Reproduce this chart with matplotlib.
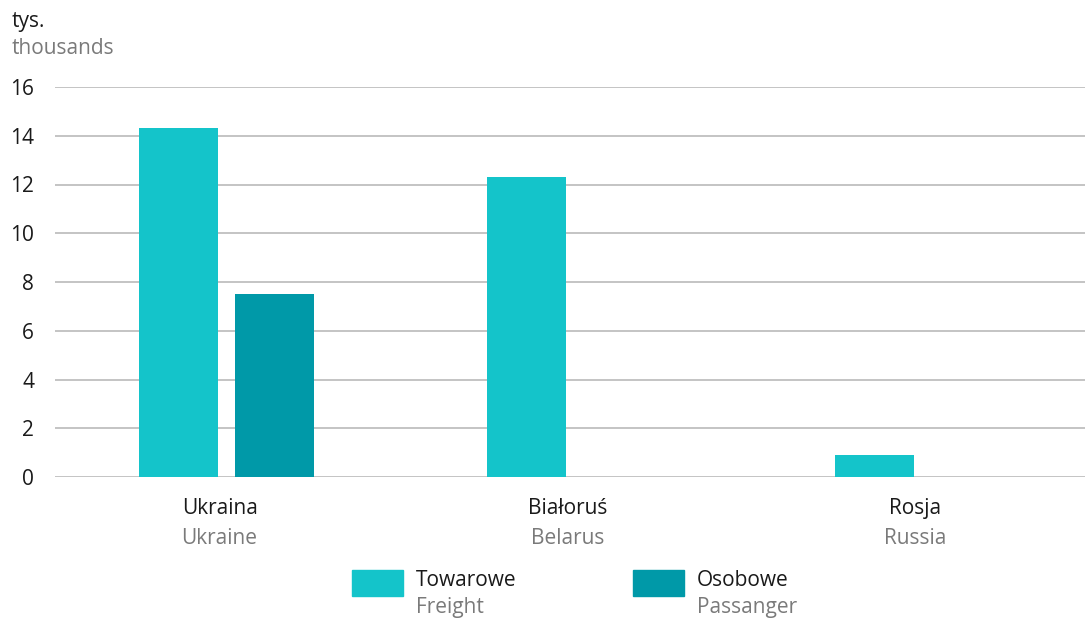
import numpy as np
import matplotlib.pyplot as plt
from matplotlib.patches import Rectangle

plt.rcParams['font.family'] = ['Open Sans', 'DejaVu Sans']

countries_pl = ['Ukraina', 'Białoruś', 'Rosja']
countries_en = ['Ukraine', 'Belarus', 'Russia']
freight = [14.3, 12.3, 0.9]
passenger = [7.5, 0, 0]
series_pl = ['Towarowe', 'Osobowe']
series_en = ['Freight', 'Passanger']
colors = ['#14c4ca', '#0099a8']
yticks = [0, 2, 4, 6, 8, 10, 12, 14, 16]

dark = '#1a1a1a'
grey = '#7a7a7a'
fs = 15

fig = plt.figure(figsize=(10.85, 6.19), dpi=100)
ax = fig.add_axes([55 / 1085, 1 - 477 / 619, 1 - 55 / 1085, 390 / 619])

x = np.arange(len(countries_pl))
w = 0.227
off = 0.139
ax.bar(x - off, freight, w, color=colors[0], zorder=3)
ax.bar(x + off, passenger, w, color=colors[1], zorder=3)

ax.set_ylim(0, 16)
ax.set_xlim(-0.493, 2.467)
ax.set_yticks(yticks)
ax.set_yticklabels([str(t) for t in yticks], fontsize=fs, color=dark)
ax.tick_params(axis='y', length=0, pad=15)
ax.set_xticks([])
ax.grid(axis='y', color='#c4c4c4', linewidth=1.4, zorder=0)
for s in ax.spines.values():
    s.set_visible(False)

tr = ax.get_xaxis_transform()
for i in range(len(x)):
    ax.text(x[i] - 0.02, -0.082, countries_pl[i], transform=tr, ha='center', va='center',
            fontsize=fs, color=dark)
    ax.text(x[i] - 0.02, -0.158, countries_en[i], transform=tr, ha='center', va='center',
            fontsize=fs, color=grey)

fig.text(12 / 1085, 1 - 22 / 619, 'tys.', ha='left', va='center', fontsize=fs, color=dark)
fig.text(12 / 1085, 1 - 49 / 619, 'thousands', ha='left', va='center', fontsize=fs, color=grey)

leg_x = [352, 633]
for i in range(2):
    fig.patches.append(Rectangle((leg_x[i] / 1085, 1 - 596 / 619), 51 / 1085, 26 / 619,
                                 transform=fig.transFigure, color=colors[i]))
    fig.text((leg_x[i] + 64) / 1085, 1 - 580 / 619, series_pl[i], ha='left', va='center',
             fontsize=fs, color=dark)
    fig.text((leg_x[i] + 64) / 1085, 1 - 608 / 619, series_en[i], ha='left', va='center',
             fontsize=fs, color=grey)

fig.savefig('out.png', dpi=100)
